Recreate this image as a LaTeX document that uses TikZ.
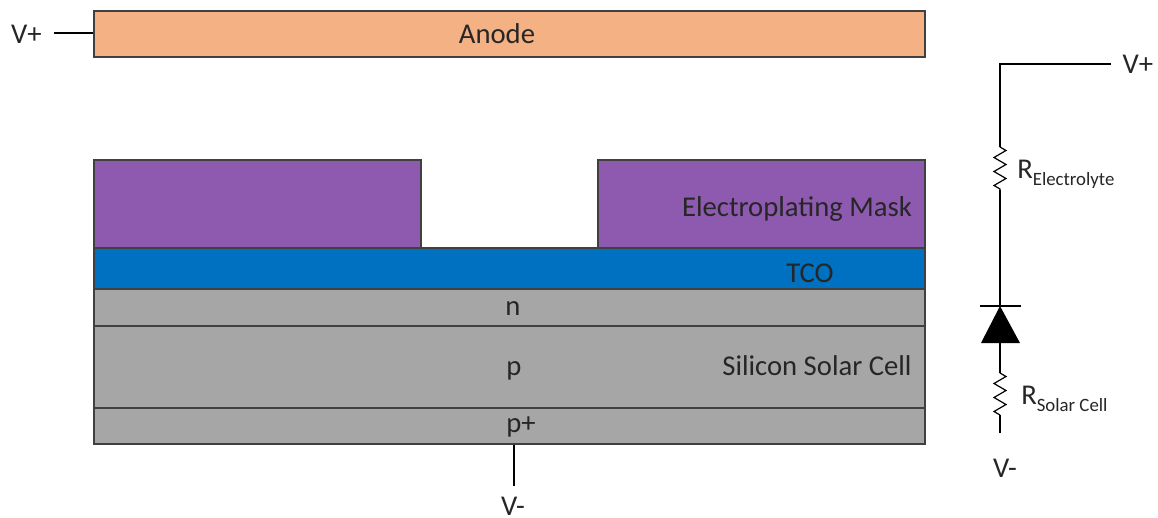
\documentclass[tikz,border=0pt]{standalone}
\usepackage{fontspec}
\setmainfont{Carlito}
\usetikzlibrary{decorations.pathmorphing}
\definecolor{anodefill}{HTML}{F4B183}
\definecolor{maskfill}{HTML}{8E5AB0}
\definecolor{tcofill}{HTML}{0070C0}
\definecolor{cellfill}{HTML}{A6A6A6}
\definecolor{edge}{HTML}{404040}
\definecolor{ink}{HTML}{262626}
\tikzset{
 layer/.style={draw=edge,line width=0.8pt,inner sep=0pt,minimum width=623.25pt},
 mask/.style={layer,fill=maskfill,minimum width=245.25pt,minimum height=66pt},
 label/.style={text=ink,font=\fontsize{21.5}{21.5}\selectfont,inner sep=0pt,anchor=base},
 wire/.style={line width=1.4pt},
 thinwire/.style={line width=0.9pt},
 resistor/.style={line width=0.9pt,decorate,decoration={zigzag,segment length=10.5pt,amplitude=4.5pt}}
}
\newcommand{\lowtext}[1]{\raisebox{-5.25pt}{\fontsize{14.1}{14.1}\selectfont #1}}
\begin{document}
\begin{tikzpicture}[x=0.75pt,y=-0.75pt]
 \useasboundingbox (0,0) rectangle (1158,518);
 % layers
 \node[layer,fill=anodefill,minimum height=34.5pt] (anode) at (509.5,34) {};
 \node[mask] (maskl) at (257.5,204) {};
 \node[mask] (maskr) at (761.5,204) {};
 \node[layer,fill=tcofill,minimum height=30.75pt] (tco) at (509.5,268.5) {};
 \node[layer,fill=cellfill,minimum height=27.75pt] (n) at (509.5,307.5) {};
 \node[layer,fill=cellfill,minimum height=61.5pt] (p) at (509.5,367) {};
 \node[layer,fill=cellfill,minimum height=27pt] (pplus) at (509.5,426) {};
 % layer labels
 \node[label] (anodetext) at (497,43) {Anode};
 \node[label] (masktext) at (797,216) {Electroplating Mask};
 \node[label] (tcotext) at (810,282) {TCO};
 \node[label] (ntext) at (513,315) {n};
 \node[label] (ptext) at (514,375) {p};
 \node[label] (pplustext) at (521,432) {p+};
 \node[label] (celltext) at (817,375) {Silicon Solar Cell};
 % left leads
 \node[label] (vplusl) at (26.5,43) {V+};
 \node[label] (vminusb) at (513,515) {V-};
 \coordinate (leadl) at (54,33);
 \coordinate (leadb) at (514,486);
 \draw[thinwire] (leadl) -- (leadl -| anode.west);
 \draw[thinwire] (pplus.south -| leadb) -- (leadb);
 % circuit
 \node[label] (vplusr) at (1138,73) {V+};
 \node[label] (vminusr) at (1005,477) {V-};
 \node[label,anchor=base west] (relec) at (1017,178) {R\lowtext{Electrolyte}};
 \node[label,anchor=base west] (rcell) at (1021,404) {R\lowtext{Solar Cell}};
 \coordinate (vend) at (1111,64);
 \coordinate (corner) at (1000,64);
 \coordinate (electop) at (1000,147);
 \coordinate (elecbot) at (1000,190);
 \coordinate (cathode) at (1000,306);
 \coordinate (anodeside) at (1000,343);
 \coordinate (celltop) at (1000,373);
 \coordinate (cellbot) at (1000,415);
 \coordinate (cellend) at (1000,433);
 \draw[wire] (vend) -- (corner) -- (electop);
 \draw[resistor] (electop) -- (elecbot);
 \draw[wire] (elecbot) -- (cathode);
 \draw[wire] (980,306) -- (1021,306);
 \fill (cathode) -- (1020,343) -- (981,343) -- cycle;
 \draw[wire] (anodeside) -- (celltop);
 \draw[resistor] (celltop) -- (cellbot);
 \draw[thinwire] (cellbot) -- (cellend);
\end{tikzpicture}
\end{document}
